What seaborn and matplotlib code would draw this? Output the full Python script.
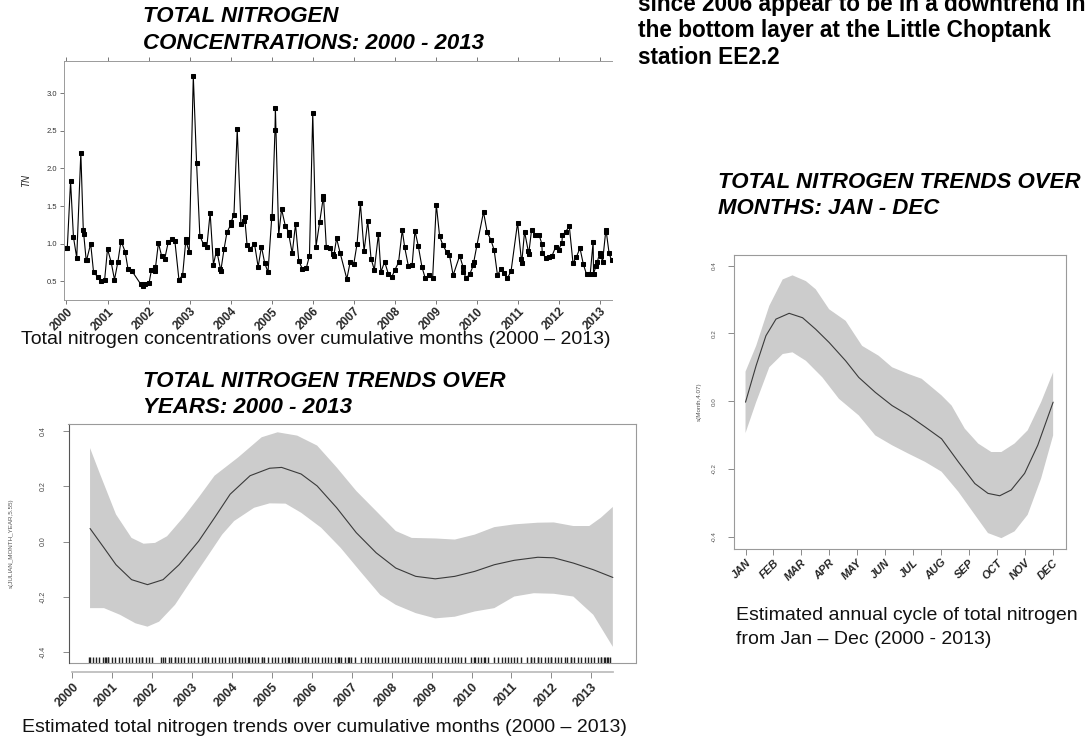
import numpy as np
import matplotlib
matplotlib.use("Agg")
import matplotlib.pyplot as plt
import seaborn as sns

sns.set_theme(style="white")
plt.rcParams['font.family'] = ['Liberation Sans', 'DejaVu Sans']

# ---- data ----
# total nitrogen, bottom layer EE2.2 (decimal year, mg/L)
tn_year = [
    2000.00, 2000.02, 2000.10, 2000.17, 2000.25, 2000.35, 2000.41, 2000.42, 2000.48, 2000.49, 2000.59, 2000.66, 2000.76, 2000.84, 2000.93,
    2001.00, 2001.09, 2001.17, 2001.25, 2001.33, 2001.34, 2001.43, 2001.50, 2001.59, 2001.81, 2001.86, 2001.92,
    2002.01, 2002.07, 2002.15, 2002.16, 2002.24, 2002.32, 2002.39, 2002.48, 2002.56, 2002.64, 2002.74, 2002.83, 2002.91, 2002.92, 2002.99,
    2003.09, 2003.17, 2003.25, 2003.34, 2003.42, 2003.50, 2003.58, 2003.66, 2003.67, 2003.75, 2003.76, 2003.84, 2003.91,
    2004.00, 2004.01, 2004.08, 2004.16, 2004.25, 2004.33, 2004.34, 2004.40, 2004.48, 2004.58, 2004.67, 2004.75, 2004.83, 2004.91,
    2005.00, 2005.01, 2005.08, 2005.09, 2005.17, 2005.24, 2005.33, 2005.41, 2005.42, 2005.50, 2005.58, 2005.66, 2005.75, 2005.84, 2005.92,
    2006.00, 2006.08, 2006.17, 2006.25, 2006.26, 2006.33, 2006.41, 2006.50, 2006.51, 2006.58, 2006.67, 2006.83, 2006.91,
    2007.00, 2007.08, 2007.16, 2007.25, 2007.34, 2007.42, 2007.50, 2007.60, 2007.66, 2007.75, 2007.84, 2007.92,
    2008.00, 2008.09, 2008.18, 2008.24, 2008.33, 2008.42, 2008.49, 2008.57, 2008.66, 2008.74, 2008.82, 2008.92,
    2009.01, 2009.09, 2009.17, 2009.26, 2009.33, 2009.42, 2009.58, 2009.66, 2009.67, 2009.74, 2009.83, 2009.91, 2009.92,
    2010.00, 2010.16, 2010.25, 2010.34, 2010.42, 2010.50, 2010.58, 2010.66, 2010.74, 2010.83, 2010.99,
    2011.08, 2011.09, 2011.16, 2011.25, 2011.26, 2011.33, 2011.42, 2011.51, 2011.58, 2011.59, 2011.67, 2011.76, 2011.83, 2011.92, 2011.99,
    2012.07, 2012.08, 2012.16, 2012.25, 2012.34, 2012.42, 2012.51, 2012.59, 2012.67, 2012.76, 2012.83, 2012.84, 2012.90, 2012.93, 2012.99,
    2013.02, 2013.06, 2013.14, 2013.15, 2013.22, 2013.28,
]
tn_value = [
    0.94, 0.94, 1.83, 1.09, 0.81, 2.21, 1.18, 1.13, 0.78, 0.78, 1.00, 0.62, 0.56, 0.50, 0.52,
    0.93, 0.75, 0.52, 0.75, 1.04, 1.02, 0.89, 0.66, 0.64, 0.46, 0.44, 0.46,
    0.47, 0.65, 0.69, 0.64, 1.01, 0.83, 0.79, 1.02, 1.06, 1.04, 0.52, 0.58, 1.06, 1.02, 0.89,
    3.23, 2.07, 1.10, 0.99, 0.96, 1.41, 0.72, 0.92, 0.88, 0.66, 0.64, 0.93, 1.15,
    1.25, 1.29, 1.38, 2.52, 1.26, 1.30, 1.36, 0.98, 0.93, 1.00, 0.69, 0.96, 0.74, 0.62,
    1.34, 1.37, 2.51, 2.80, 1.11, 1.46, 1.24, 1.16, 1.11, 0.87, 1.26, 0.77, 0.66, 0.67, 0.84,
    2.74, 0.96, 1.29, 1.59, 1.64, 0.96, 0.94, 0.86, 0.83, 1.07, 0.87, 0.53, 0.75,
    0.73, 1.00, 1.54, 0.90, 1.30, 0.80, 0.65, 1.13, 0.62, 0.76, 0.60, 0.55,
    0.65, 0.75, 1.18, 0.95, 0.70, 0.71, 1.17, 0.97, 0.69, 0.54, 0.58, 0.54,
    1.52, 1.10, 0.98, 0.89, 0.85, 0.58, 0.84, 0.69, 0.62, 0.54, 0.60, 0.71, 0.75,
    0.98, 1.42, 1.15, 1.05, 0.91, 0.58, 0.66, 0.61, 0.54, 0.63, 1.28,
    0.79, 0.74, 1.16, 0.90, 0.86, 1.18, 1.12, 1.12, 1.00, 0.88, 0.81, 0.82, 0.84, 0.96, 0.92,
    1.01, 1.11, 1.16, 1.23, 0.74, 0.82, 0.94, 0.73, 0.59, 0.60, 1.02, 0.60, 0.70, 0.75, 0.88,
    0.84, 0.76, 1.18, 1.16, 0.87, 0.78,
]
years = list(range(2000, 2014))

# GAM smooth over cumulative months
trend_year = [2000.44, 2000.79, 2001.09, 2001.48, 2001.88, 2002.27, 2002.67, 2003.16, 2003.56, 2003.95,
              2004.45, 2004.94, 2005.24, 2005.73, 2006.13, 2006.62, 2007.11, 2007.61, 2008.10, 2008.60,
              2009.09, 2009.58, 2010.08, 2010.57, 2011.07, 2011.66, 2012.06, 2012.55, 2013.05, 2013.54]
trend_fit = [0.047, -0.023, -0.084, -0.138, -0.156, -0.138, -0.084, 0.001, 0.086, 0.171,
             0.238, 0.265, 0.268, 0.244, 0.201, 0.122, 0.032, -0.041, -0.096, -0.126,
             -0.135, -0.126, -0.108, -0.084, -0.068, -0.057, -0.059, -0.078, -0.102, -0.130]
trend_up_year = [2000.44, 2000.69, 2001.09, 2001.48, 2001.78, 2002.07, 2002.37, 2002.77, 2003.16, 2003.56,
                 2004.15, 2004.74, 2005.14, 2005.63, 2006.13, 2006.62, 2007.11, 2007.61, 2008.10, 2008.50,
                 2009.09, 2009.58, 2010.08, 2010.57, 2011.07, 2011.66, 2012.06, 2012.55, 2012.95, 2013.24, 2013.54]
trend_up = [0.338, 0.244, 0.098, 0.013, -0.008, -0.005, 0.019, 0.086, 0.159, 0.238,
            0.304, 0.377, 0.395, 0.383, 0.347, 0.268, 0.183, 0.110, 0.038, 0.013,
            0.011, 0.007, 0.025, 0.052, 0.062, 0.068, 0.069, 0.056, 0.056, 0.086, 0.125]
trend_lo_year = [2000.44, 2000.79, 2001.19, 2001.58, 2001.88, 2002.17, 2002.57, 2002.96, 2003.36, 2003.75,
                 2004.05, 2004.55, 2004.94, 2005.34, 2005.73, 2006.23, 2006.72, 2007.21, 2007.71, 2008.10,
                 2008.60, 2009.09, 2009.58, 2010.08, 2010.57, 2011.07, 2011.56, 2012.06, 2012.55, 2013.05, 2013.54]
trend_lo = [-0.241, -0.241, -0.265, -0.296, -0.308, -0.290, -0.229, -0.144, -0.059, 0.025,
            0.074, 0.122, 0.138, 0.137, 0.104, 0.050, -0.023, -0.108, -0.193, -0.229,
            -0.259, -0.278, -0.272, -0.253, -0.241, -0.199, -0.187, -0.189, -0.199, -0.265, -0.381]
rug_offset = 0.41   # smooth's month index sits a few months after the sample dates

# GAM smooth over months of the year
month_names = ['JAN', 'FEB', 'MAR', 'APR', 'MAY', 'JUN', 'JUL', 'AUG', 'SEP', 'OCT', 'NOV', 'DEC']
cyc_month = [1.00, 1.38, 1.73, 2.09, 2.56, 3.04, 3.51, 3.99, 4.58, 5.05, 5.64, 6.24,
             6.83, 7.42, 8.01, 8.61, 9.20, 9.67, 10.09, 10.50, 10.98, 11.45, 12.00]
cyc_fit = [-0.003, 0.105, 0.193, 0.242, 0.259, 0.246, 0.212, 0.173, 0.119, 0.070, 0.026, -0.013,
           -0.042, -0.076, -0.111, -0.179, -0.243, -0.272, -0.279, -0.262, -0.213, -0.130, -0.003]
cyc_up_month = [1.00, 1.38, 1.85, 2.33, 2.68, 3.16, 3.51, 3.99, 4.58, 5.17, 5.76, 6.24,
                6.83, 7.30, 8.01, 8.37, 8.84, 9.32, 9.79, 10.15, 10.62, 11.09, 11.57, 12.00]
cyc_up = [0.087, 0.163, 0.281, 0.359, 0.371, 0.354, 0.330, 0.271, 0.237, 0.163, 0.134, 0.100,
          0.080, 0.066, 0.017, -0.013, -0.081, -0.125, -0.150, -0.150, -0.125, -0.086, -0.003, 0.085]
cyc_lo_month = [1.00, 1.38, 1.85, 2.33, 2.68, 3.16, 3.75, 4.34, 5.05, 5.64, 6.24, 6.83,
                7.42, 8.01, 8.61, 9.20, 9.67, 10.15, 10.62, 11.09, 11.57, 12.00]
cyc_lo = [-0.094, -0.003, 0.100, 0.139, 0.144, 0.119, 0.070, 0.007, -0.042, -0.101, -0.130, -0.155,
          -0.179, -0.208, -0.267, -0.335, -0.389, -0.404, -0.384, -0.335, -0.228, -0.101]

W, H = 1091, 740
BAND = '#cccccc'
FRAME = '#9a9a9a'
fig = plt.figure(figsize=(W / 100, H / 100), dpi=100)
fig.patch.set_facecolor('white')


def px_axes(l, t, r, b):
    return fig.add_axes([l / W, 1 - b / H, (r - l) / W, (b - t) / H])


def band(ax, up_x, up_y, lo_x, lo_y):
    # polygon: upper edge left->right, lower edge back right->left
    ax.fill(list(up_x) + list(lo_x)[::-1], list(up_y) + list(lo_y)[::-1], color=BAND, lw=0)


# ───── top: raw concentrations ─────
ax1 = px_axes(64, 61, 612, 300)
sns.lineplot(x=tn_year, y=tn_value, estimator=None, sort=False, color='black', lw=0.8,
             marker='s', markersize=3.3, markeredgecolor='black', ax=ax1)
ax1.set_xlim(1999.94, 2013.29)
ax1.set_ylim(0.25, 3.43)
ax1.set_xticks(years)
ax1.set_xticklabels([str(y) for y in years], rotation=45, ha='right', rotation_mode='anchor',
                    fontsize=8.5, fontweight='bold')
ax1.set_yticks([0.5, 1.0, 1.5, 2.0, 2.5, 3.0])
ax1.set_yticklabels(['0.5', '1.0', '1.5', '2.0', '2.5', '3.0'], fontsize=5.5, color='#333333')
ax1.tick_params(axis='both', direction='out', length=3, width=0.7, color='#777777', top=True,
                bottom=True, left=True, pad=2)
ax1.tick_params(axis='x', pad=1)
for s in ['top', 'left', 'bottom']:
    ax1.spines[s].set_color('#9a9a9a')
    ax1.spines[s].set_linewidth(0.7)
ax1.spines['right'].set_visible(False)
ax1.set_xlabel('')
ax1.set_ylabel('TN', fontsize=7, style='italic')
ax1.yaxis.set_label_coords(-0.06, 0.5)

# ───── bottom left: trend over years ─────
ax2 = px_axes(68.5, 424, 636, 662.6)
# spine moves reset tick formatting, so do them first
ax2.spines['bottom'].set_position(('outward', 7))
ax2.spines['bottom'].set_bounds(2000, 2013.55)
ax2.spines['bottom'].set_color('#bbbbbb')
band(ax2, trend_up_year, trend_up, trend_lo_year, trend_lo)
sns.lineplot(x=trend_year, y=trend_fit, color='#3a3a3a', lw=0.8, ax=ax2)
rug_x = [t + rug_offset for t in tn_year if t + rug_offset <= trend_year[-1]]
sns.rugplot(x=rug_x, height=0.024, color='#222222', lw=0.45, expand_margins=False, ax=ax2)
ax2.set_xlim(1999.9, 2014.12)
ax2.set_ylim(-0.438, 0.425)
ax2.set_xticks(years)
ax2.set_xticklabels([str(y) for y in years], rotation=45, ha='right', rotation_mode='anchor',
                    fontsize=9, fontweight='bold')
ax2.set_yticks([-0.4, -0.2, 0.0, 0.2, 0.4])
ax2.set_yticklabels(['-0.4', '-0.2', '0.0', '0.2', '0.4'], rotation=90, va='center',
                    fontsize=5, color='#444444')
ax2.tick_params(axis='y', direction='out', length=4, width=0.6, color='#777777', left=True, pad=12)
ax2.tick_params(axis='x', direction='out', length=4, width=0.6, color='#777777', bottom=True, pad=2)
for s in ['top', 'right', 'left']:
    ax2.spines[s].set_color(FRAME)
    ax2.spines[s].set_linewidth(0.8)
ax2.spines['left'].set_color('#555555')
ax2.plot([0, 1], [0, 0], transform=ax2.transAxes, color=FRAME, lw=0.8, clip_on=False)
ax2.set_xlabel('')
ax2.set_ylabel('s(JULIAN_MONTH_YEAR,5.55)', fontsize=4.5, color='#555555')
ax2.yaxis.set_label_coords(-0.096, 0.5)

# ───── right: annual cycle ─────
ax3 = px_axes(733.6, 255, 1066, 549)
band(ax3, cyc_up_month, cyc_up, cyc_lo_month, cyc_lo)
sns.lineplot(x=cyc_month, y=cyc_fit, color='#3a3a3a', lw=0.8, ax=ax3)
ax3.set_xlim(0.574, 12.46)
ax3.set_ylim(-0.436, 0.431)
ax3.set_xticks(range(1, 13))
ax3.set_xticklabels(month_names, rotation=45, ha='right', rotation_mode='anchor',
                    fontsize=8, fontweight='bold', style='italic')
ax3.set_yticks([-0.4, -0.2, 0.0, 0.2, 0.4])
ax3.set_yticklabels(['-0.4', '-0.2', '0.0', '0.2', '0.4'], rotation=90, va='center',
                    fontsize=4.5, color='#555555')
ax3.tick_params(axis='both', direction='out', length=4, width=0.6, color='#777777',
                left=True, bottom=True)
ax3.tick_params(axis='y', pad=8)
ax3.tick_params(axis='x', pad=2)
for s in ax3.spines.values():
    s.set_color(FRAME)
    s.set_linewidth(0.8)
ax3.set_ylabel('s(Month,4.07)', fontsize=4.5, color='#555555')
ax3.yaxis.set_label_coords(-0.095, 0.5)

# ───── slide text ─────
tkw = dict(fontsize=16, fontweight='bold', style='italic', va='center', color='black')
fig.text(143 / W, 1 - 16.5 / H, 'TOTAL NITROGEN', **tkw)
fig.text(143 / W, 1 - 43.5 / H, 'CONCENTRATIONS: 2000 - 2013', **tkw)
fig.text(143 / W, 1 - 382 / H, 'TOTAL NITROGEN TRENDS OVER', **tkw)
fig.text(143 / W, 1 - 407 / H, 'YEARS: 2000 - 2013', **tkw)
fig.text(718 / W, 1 - 182 / H, 'TOTAL NITROGEN TRENDS OVER', **tkw)
fig.text(718 / W, 1 - 209 / H, 'MONTHS: JAN - DEC', **tkw)

ckw = dict(fontsize=14, va='center', color='#111111')
fig.text(21 / W, 1 - 340 / H, 'Total nitrogen concentrations over cumulative months (2000 \u2013 2013)', **ckw)
fig.text(22 / W, 1 - 728 / H, 'Estimated total nitrogen trends over cumulative months (2000 \u2013 2013)', **ckw)
fig.text(736 / W, 1 - 615 / H, 'Estimated annual cycle of total nitrogen', **ckw)
fig.text(736 / W, 1 - 639 / H, 'from Jan \u2013 Dec (2000 - 2013)', **ckw)

# body text of the slide; first line is cut by the top edge, as on the slide
bkw = dict(fontsize=16.3, fontweight='bold', va='center', color='black')
fig.text(638 / W, 1 - 5 / H, 'since 2006 appear to be in a downtrend in', **bkw)
fig.text(638 / W, 1 - 31 / H, 'the bottom layer at the Little Choptank', **bkw)
fig.text(638 / W, 1 - 57 / H, 'station EE2.2', **bkw)

fig.savefig('out.png', dpi=100)
